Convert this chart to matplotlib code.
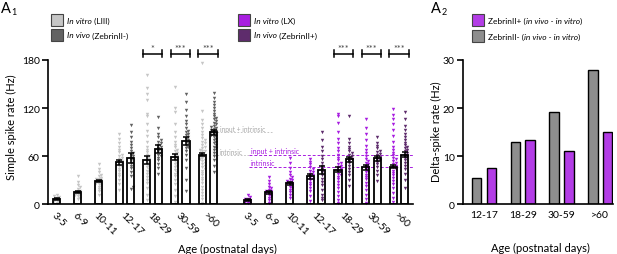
import matplotlib
matplotlib.use('Agg')
import matplotlib.pyplot as plt
from matplotlib.patches import Rectangle
import numpy as np

plt.rcParams['font.family'] = ['Lato', 'DejaVu Sans']

# ---- data -------------------------------------------------------------
ages = ['3-5', '6-9', '10-11', '12-17', '18-29', '30-59', '>60']
pair_ages = ['12-17', '18-29', '30-59', '>60']

# A1, left block: in vitro (LIII) and in vivo (ZebrinII-)
vitro_liii_mean = [6.7, 15.4, 28.7, 52.5, 55.8, 59.0, 61.7]
vitro_liii_sem = [0.8, 1.0, 1.2, 3.0, 5.0, 4.0, 2.0]
vivo_zm_mean = [57.5, 69.0, 79.0, 90.0]
vivo_zm_sem = [6.0, 4.5, 4.5, 3.0]

# A1, right block: in vitro (LX) and in vivo (ZebrinII+)
vitro_lx_mean = [5.0, 15.0, 26.0, 35.0, 43.0, 46.0, 47.0]
vitro_lx_sem = [1.0, 2.0, 1.5, 3.0, 3.0, 3.0, 2.0]
vivo_zp_mean = [43.0, 56.0, 57.5, 62.0]
vivo_zp_sem = [5.0, 3.5, 3.0, 3.0]

vitro_liii_pts = [
    [2, 3, 4, 5, 5, 6, 7, 8, 9, 10, 12],
    [6, 8, 10, 11, 12, 13, 14, 15, 16, 17, 19, 21, 24, 28, 35],
    [12, 16, 19, 22, 24, 25, 26, 27, 28, 29, 30, 31, 32, 33, 35, 37, 40, 44, 50],
    [18, 25, 30, 35, 38, 41, 44, 46, 48, 50, 52, 54, 56, 58, 60, 62, 65, 68, 72, 76, 82, 88],
    [5, 12, 20, 26, 30, 34, 38, 40, 42, 44, 46, 48, 50, 52, 54, 56, 58, 60, 62, 65, 68, 72,
     78, 85, 92, 100, 110, 113, 130, 137, 145, 161],
    [3, 10, 18, 25, 30, 35, 38, 40, 43, 46, 48, 50, 52, 54, 56, 58, 60, 62, 64, 66, 68, 71,
     74, 78, 84, 90, 100, 115, 120, 146],
    [2, 6, 10, 14, 18, 22, 26, 30, 33, 36, 39, 42, 44, 46, 48, 50, 52, 54, 55, 56, 58, 59,
     60, 61, 62, 63, 64, 66, 67, 68, 70, 72, 74, 76, 78, 80, 83, 86, 90, 95, 100, 105, 117, 176],
]
vivo_zm_pts = [
    [19, 21, 35, 40, 45, 48, 52, 55, 58, 60, 62, 64, 67, 70, 74, 78, 84, 90, 99],
    [38, 45, 50, 55, 58, 60, 62, 64, 66, 68, 70, 72, 74, 76, 78, 80, 84, 88, 95, 109],
    [16, 30, 45, 55, 62, 66, 70, 72, 74, 76, 78, 80, 82, 84, 86, 88, 90, 92, 95, 100, 104,
     110, 118, 128, 138],
    [40, 48, 55, 60, 64, 68, 70, 72, 74, 76, 78, 80, 82, 84, 85, 86, 88, 89, 90, 91, 92, 93,
     94, 95, 96, 98, 100, 102, 104, 106, 108, 110, 113, 116, 120, 124, 128, 133, 139],
]
vitro_lx_pts = [
    [1, 2, 3, 4, 5, 6, 7, 9, 12],
    [2, 5, 8, 10, 12, 13, 14, 15, 16, 17, 18, 20, 22, 25, 29, 34],
    [8, 12, 15, 18, 20, 22, 24, 25, 26, 27, 28, 29, 30, 32, 34, 36, 40, 45, 51, 58],
    [4, 10, 16, 20, 24, 27, 30, 32, 34, 36, 38, 40, 42, 44, 47, 50, 53, 57],
    [1, 5, 10, 15, 20, 24, 28, 31, 34, 36, 38, 40, 42, 44, 46, 48, 50, 52, 55, 58, 62, 66,
     70, 76, 82, 90, 101, 110, 113],
    [2, 6, 12, 18, 23, 27, 31, 34, 37, 40, 42, 44, 46, 48, 50, 52, 54, 57, 60, 64, 68, 73,
     80, 88, 95, 106],
    [3, 8, 14, 20, 25, 29, 33, 36, 39, 42, 44, 46, 48, 50, 52, 54, 56, 58, 61, 64, 68, 72,
     78, 85, 93, 100, 107, 112, 119],
]
vivo_zp_pts = [
    [5, 8, 12, 18, 24, 28, 32, 36, 40, 44, 48, 52, 56, 60, 66, 72, 80, 90],
    [23, 30, 36, 40, 44, 48, 51, 54, 56, 58, 60, 62, 64, 66, 69, 72, 76, 81, 110],
    [29, 36, 42, 46, 50, 53, 55, 57, 59, 61, 63, 65, 67, 70, 73, 77, 84],
    [20, 30, 38, 44, 48, 52, 55, 58, 60, 62, 64, 66, 68, 70, 72, 74, 77, 80, 84, 88, 93,
     98, 107, 115],
]
sig_gray = ['*', '***', '***']
sig_purple = ['***', '***', '***']

# A2: delta-spike rate
delta_ages = ['12-17', '18-29', '30-59', '>60']
delta_zm = [5.5, 13.0, 19.2, 28.0]
delta_zp = [7.5, 13.3, 11.0, 15.0]

# ---- colours ----------------------------------------------------------
c_vitro_g = '#c6c6c6'
c_vivo_g = '#626262'
c_vitro_p = '#a81ee0'
c_vivo_p = '#5e2c6c'

W, H = 617, 255
fig = plt.figure(figsize=(W / 100, H / 100), dpi=100)


def fx(px):
    return px / W


def fy(py):
    return 1 - py / H


ax1 = fig.add_axes([fx(48), fy(205.3), 365 / W, (205.3 - 61) / H])
ax1.set_xlim(-0.41, 16.97)
ax1.set_ylim(0, 180)


def group_x(k, offset):
    if k < 3:
        return offset + k
    return offset + 3.25 + 1.32 * (k - 3)


def swarm(xc, vals, half):
    # simple beeswarm: px units, 1 x-unit = 21 px, 1 Hz = 0.8 px
    placed = []
    xs = []
    d = 0.06
    for v in vals:
        cands = [0]
        k = 1
        while k * d <= half + 1e-9:
            cands += [k * d, -k * d]
            k += 1
        pick = cands[-1]
        for c in cands:
            ok = True
            for (px, pv) in placed:
                if abs((c - px) * 21) < 2.4 and abs((v - pv) * 0.8) < 2.4:
                    ok = False
                    break
            if ok:
                pick = c
                break
        placed.append((pick, v))
        xs.append(xc + pick)
    return xs


bw = 0.34
blocks = [
    (0.0, vitro_liii_mean, vitro_liii_sem, vitro_liii_pts, c_vitro_g,
     vivo_zm_mean, vivo_zm_sem, vivo_zm_pts, c_vivo_g, sig_gray),
    (9.1, vitro_lx_mean, vitro_lx_sem, vitro_lx_pts, c_vitro_p,
     vivo_zp_mean, vivo_zp_sem, vivo_zp_pts, c_vivo_p, sig_purple),
]
tick_pos, tick_lab = [], []
for off, vm, vs, vp, vc, im, isem, ip, ic, sig in blocks:
    xs_vitro, xs_vivo = [], []
    for k in range(len(ages)):
        xc = group_x(k, off)
        tick_pos.append(xc)
        tick_lab.append(ages[k])
        xs_vitro.append(xc if k < 3 else xc - 0.27)
        if k >= 3:
            xs_vivo.append(xc + 0.27)
    ax1.bar(xs_vitro, vm, width=bw, color='white', edgecolor='none', zorder=1)
    ax1.bar(xs_vivo, im, width=bw, color='white', edgecolor='none', zorder=1)
    for x, pts in zip(xs_vitro, vp):
        ax1.scatter(swarm(x, pts, 0.12), pts, marker='v', s=6, color=vc,
                    linewidths=0, zorder=2, clip_on=False)
    for x, pts in zip(xs_vivo, ip):
        ax1.scatter(swarm(x, pts, 0.12), pts, marker='v', s=6, color=ic,
                    linewidths=0, zorder=2, clip_on=False)
    ax1.bar(xs_vitro, vm, width=bw, fill=False, edgecolor='black', lw=1.3, zorder=3)
    ax1.bar(xs_vivo, im, width=bw, fill=False, edgecolor='black', lw=1.3, zorder=3)
    ax1.errorbar(xs_vitro, vm, yerr=vs, fmt='none', ecolor='black', elinewidth=1.1,
                 capsize=2.2, capthick=1.1, zorder=4)
    ax1.errorbar(xs_vivo, im, yerr=isem, fmt='none', ecolor='black', elinewidth=1.1,
                 capsize=2.2, capthick=1.1, zorder=4)
    # significance brackets
    for j, s in enumerate(sig):
        xc = group_x(4 + j, off)
        x0, x1 = xc - 0.46, xc + 0.46
        ax1.plot([x0, x1], [188, 188], color='black', lw=1.1, clip_on=False)
        for xe in (x0, x1):
            ax1.plot([xe, xe], [183.5, 192.5], color='black', lw=1.1, clip_on=False)
        ax1.text(xc, 194, s, ha='center', va='center', fontsize=6.5, color='#444444',
                 clip_on=False)

# intrinsic / input annotations
x_end_g = group_x(6, 0) + 0.44
ax1.plot([x_end_g, x_end_g + 2.6], [vivo_zm_mean[3]] * 2, ls=(0, (2, 2)), lw=0.6,
         color='#bbbbbb', zorder=0)
ax1.plot([x_end_g, x_end_g + 1.6], [vitro_liii_mean[6]] * 2, ls=(0, (2, 2)), lw=0.6,
         color='#bbbbbb', zorder=0)
ax1.text(x_end_g + 0.12, vivo_zm_mean[3] + 4, 'input + intrinsic', fontsize=4.8,
         color='#aaaaaa', va='center')
ax1.text(x_end_g + 0.12, vitro_liii_mean[6] + 4, 'intrinsic', fontsize=4.8,
         color='#aaaaaa', va='center')
x_start_p = group_x(0, 9.1) + 0.05
ax1.plot([x_start_p, 16.97], [vivo_zp_mean[3]] * 2, ls=(0, (3, 2)), lw=0.7,
         color=c_vitro_p, zorder=0)
ax1.plot([x_start_p, 16.97], [vitro_lx_mean[6]] * 2, ls=(0, (3, 2)), lw=0.7,
         color=c_vitro_p, zorder=0)
ax1.text(x_start_p + 0.1, vivo_zp_mean[3] + 5, 'input + intrinsic', fontsize=5,
         color=c_vitro_p, va='center')
ax1.text(x_start_p + 0.1, vitro_lx_mean[6] + 5, 'intrinsic', fontsize=5,
         color=c_vitro_p, va='center')

ax1.spines['top'].set_visible(False)
ax1.spines['right'].set_visible(False)
for sp in ('left', 'bottom'):
    ax1.spines[sp].set_linewidth(1.2)
ax1.set_yticks([0, 60, 120, 180])
ax1.tick_params(axis='y', direction='out', length=4, width=1.2, labelsize=7.5, pad=2)
ax1.set_xticks(tick_pos)
ax1.set_xticklabels(tick_lab, rotation=-45, ha='left', va='top', fontsize=7.5)
for t in ax1.get_xticklabels():
    t.set_rotation_mode('anchor')
ax1.tick_params(axis='x', length=0, pad=4)
ax1.set_ylabel('Simple spike rate (Hz)', fontsize=8)
ax1.yaxis.set_label_coords(-0.085, 0.54)

# ---- A2 ---------------------------------------------------------------
ax2 = fig.add_axes([fx(463), fy(205.3), 150 / W, (205.3 - 61) / H])
ax2.set_xlim(-0.54, 3.33)
ax2.set_ylim(0, 30)
xi = np.arange(len(delta_ages))
ax2.bar(xi - 0.19, delta_zm, width=0.245, color='#8e8e8e', edgecolor='black', lw=1)
ax2.bar(xi + 0.19, delta_zp, width=0.245, color='#b33de6', edgecolor='black', lw=1)
ax2.spines['top'].set_visible(False)
ax2.spines['right'].set_visible(False)
for sp in ('left', 'bottom'):
    ax2.spines[sp].set_linewidth(1.2)
ax2.set_yticks([0, 10, 20, 30])
ax2.tick_params(axis='y', direction='out', length=4, width=1.2, labelsize=7.5, pad=2)
ax2.set_xticks(xi)
ax2.set_xticklabels(delta_ages, fontsize=7.5)
ax2.tick_params(axis='x', length=0, pad=4)
ax2.set_ylabel('Delta-spike rate (Hz)', fontsize=8)
ax2.yaxis.set_label_coords(-0.14, 0.51)

# ---- labels and legends ----------------------------------------------
fig.text(fx(227), fy(249), 'Age (postnatal days)', ha='center', va='center', fontsize=8)
fig.text(fx(540), fy(248), 'Age (postnatal days)', ha='center', va='center', fontsize=8)

renderer = fig.canvas.get_renderer()


def panel_label(x, y, sub):
    t = fig.text(fx(x), fy(y), 'A', fontsize=10.5, va='baseline', ha='left')
    bb = t.get_window_extent(renderer)
    fig.text(bb.x1 / W + 0.001, fy(y + 2), sub, fontsize=6.5, va='baseline', ha='left')


panel_label(1, 13, '1')
panel_label(431, 13, '2')


def legend_item(x, y, color, parts, size=6):
    fig.add_artist(Rectangle((fx(x), fy(y + 6)), 12 / W, 12 / H, transform=fig.transFigure,
                             facecolor=color, edgecolor='#444444', lw=0.8))
    xp = x + 16
    for txt, style in parts:
        t = fig.text(fx(xp), fy(y), txt, fontsize=size, style=style, va='center', ha='left')
        bb = t.get_window_extent(renderer)
        xp = bb.x1


legend_item(51, 21, c_vitro_g, [('In vitro', 'italic'), (' (LIII)', 'normal')])
legend_item(51, 36, c_vivo_g, [('In vivo', 'italic'), (' (ZebrinII-)', 'normal')])
legend_item(238, 21, c_vitro_p, [('In vitro', 'italic'), (' (LX)', 'normal')])
legend_item(238, 36, c_vivo_p, [('In vivo', 'italic'), (' (ZebrinII+)', 'normal')])
legend_item(472, 21, '#b33de6', [('ZebrinII+ (', 'normal'), ('in vivo - in vitro', 'italic'),
                                 (')', 'normal')], size=6)
legend_item(472, 37, '#8e8e8e', [('ZebrinII- (', 'normal'), ('in vivo - in vitro', 'italic'),
                                 (')', 'normal')], size=6)

fig.savefig('out.png', dpi=100)
